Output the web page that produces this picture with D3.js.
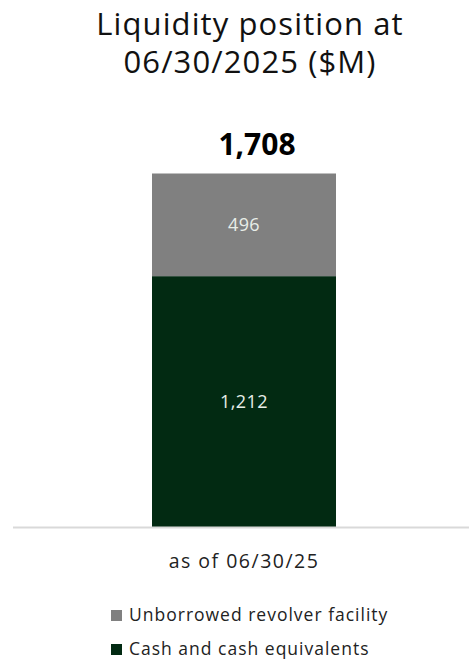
<!DOCTYPE html>
<html>
<head>
<meta charset="utf-8">
<script src="https://cdn.jsdelivr.net/npm/d3@7"></script>
<style>
  html, body { margin: 0; padding: 0; background: #fff; }
  svg { display: block; font-family: "Open Sans", "Noto Sans", sans-serif; }
</style>
</head>
<body>
<svg id="chart" width="469" height="661"></svg>
<script>
// Liquidity components, $M
const categories = ["as of 06/30/25"];
const seriesNames = ["Cash and cash equivalents", "Unborrowed revolver facility"];
const cashValues = [1212];
const revolverValues = [496];
const valueLabels = { cash: ["1,212"], revolver: ["496"], total: ["1,708"] };
const colors = ["#022a12", "#808080"];

const svg = d3.select("#chart");

const rows = categories.map((c, i) => ({
  category: c,
  "Cash and cash equivalents": cashValues[i],
  "Unborrowed revolver facility": revolverValues[i]
}));
const stacked = d3.stack().keys(seriesNames)(rows);

const x = d3.scaleBand().domain(categories).range([60, 428]).paddingInner(0).paddingOuter(0.5);
const y = d3.scaleLinear().domain([0, 1708]).range([527, 173.5]);

// title
svg.append("text")
  .attr("text-anchor", "middle")
  .attr("font-size", 31).attr("fill", "#111")
  .attr("letter-spacing", 1.1)
  .selectAll("tspan")
  .data(["Liquidity position at", "06/30/2025 ($M)"])
  .join("tspan")
  .attr("x", 250)
  .attr("y", (d, i) => 35 + i * 38)
  .text(d => d);

// stacked bar
const layer = svg.append("g").selectAll("g").data(stacked).join("g")
  .attr("fill", (d, i) => colors[i]);
layer.selectAll("rect").data(d => d).join("rect")
  .attr("x", d => x(d.data.category))
  .attr("width", x.bandwidth())
  .attr("y", d => y(d[1]))
  .attr("height", d => y(d[0]) - y(d[1]));

// segment labels
const segLabels = [valueLabels.cash, valueLabels.revolver];
stacked.forEach((s, si) => {
  svg.append("g").selectAll("text").data(s).join("text")
    .attr("x", d => x(d.data.category) + x.bandwidth() / 2)
    .attr("y", d => (y(d[0]) + y(d[1])) / 2)
    .attr("dy", "0.36em")
    .attr("text-anchor", "middle")
    .attr("font-size", 18)
    .attr("letter-spacing", 0.4)
    .attr("fill", "#e8eee8")
    .text((d, i) => segLabels[si][i]);
});

// total label
svg.append("g").selectAll("text").data(rows).join("text")
  .attr("x", d => x(d.category) + x.bandwidth() / 2 + 13)
  .attr("y", d => y(d["Cash and cash equivalents"] + d["Unborrowed revolver facility"]) - 18.5)
  .attr("text-anchor", "middle")
  .attr("font-size", 30).attr("font-weight", 700).attr("fill", "#000")
  .text((d, i) => valueLabels.total[i]);

// baseline axis
const axis = svg.append("g").attr("transform", `translate(0,${y(0)})`)
  .call(d3.axisBottom(x).tickSize(0));
axis.select(".domain").attr("d", "M13,0.5H469").attr("stroke", "#d9d9d9").attr("stroke-width", 2);
axis.selectAll(".tick text")
  .attr("y", 41).attr("dy", null)
  .attr("font-size", 19.5).attr("fill", "#222")
  .attr("letter-spacing", 1.5)
  .attr("font-family", "'Open Sans', sans-serif");

// legend
const legend = svg.append("g").attr("transform", "translate(111,610)");
const legendItems = [
  { name: seriesNames[1], color: colors[1] },
  { name: seriesNames[0], color: colors[0] }
];
const li = legend.selectAll("g").data(legendItems).join("g")
  .attr("transform", (d, i) => `translate(0,${i * 34})`);
li.append("rect").attr("width", 11).attr("height", 11).attr("fill", d => d.color);
li.append("text").attr("x", 18).attr("y", 11)
  .attr("font-size", 17.5).attr("fill", "#222")
  .attr("letter-spacing", 1.0)
  .text(d => d.name);
</script>
</body>
</html>
